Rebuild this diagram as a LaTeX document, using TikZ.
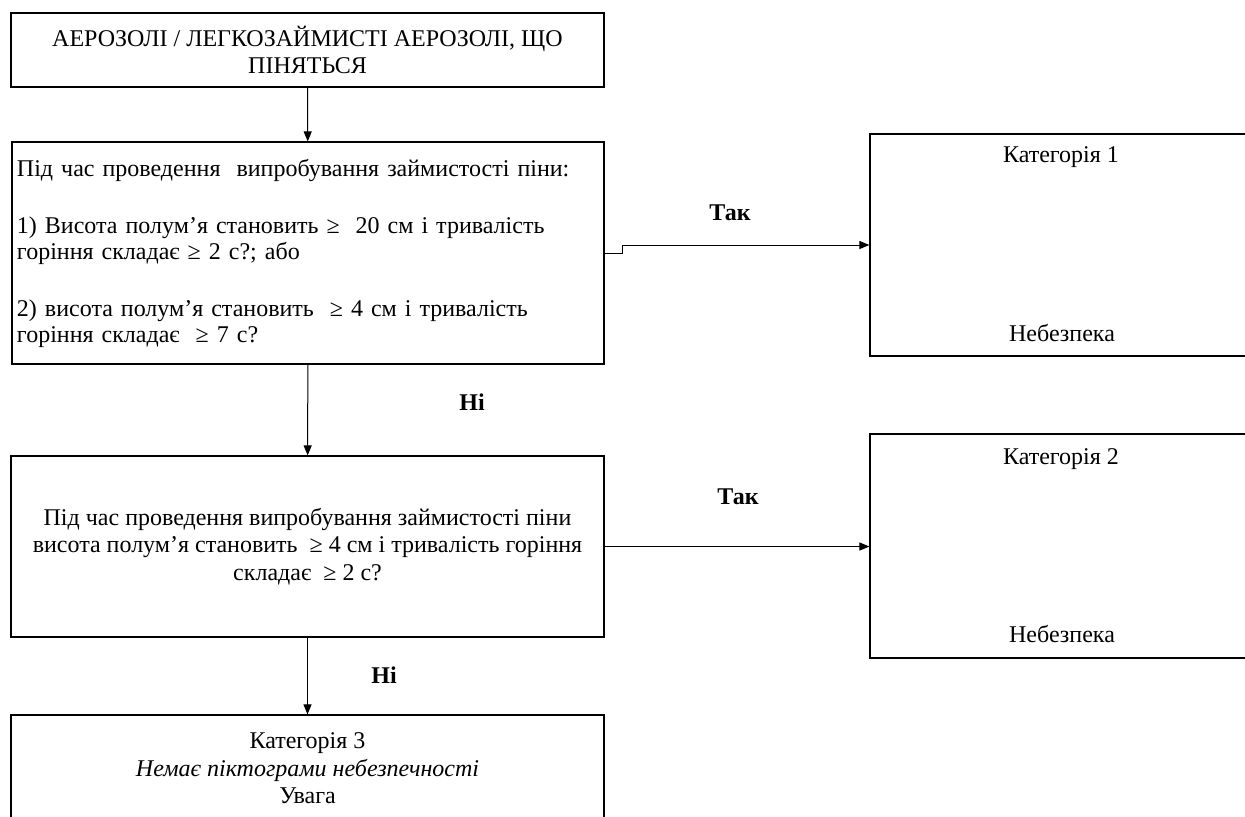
\documentclass[tikz,border=0pt]{standalone}
\usepackage{fontspec}
\setmainfont{Liberation Serif}
\usetikzlibrary{arrows.meta,positioning,calc}
\tikzset{
  qbox/.style={draw=black,line width=0.6pt,inner sep=2.5pt,font=\fontsize{12}{13.75}\selectfont,align=center},
  catbox/.style={draw=black,line width=0.6pt,minimum width=191pt},
  cattext/.style={font=\fontsize{12}{13.75}\selectfont},
  flow/.style={-{Triangle[length=5pt,width=4pt]},line width=0.5pt,draw=black},
  answer/.style={font=\bfseries\fontsize{12}{13.75}\selectfont}
}
\begin{document}
\begin{tikzpicture}[x=0.5pt,y=-0.5pt]
\useasboundingbox (0,0) rectangle (1245,816);
\clip (0,0) rectangle (1245,816);

\node[qbox,minimum width=296.5pt,minimum height=37pt] (start) at (307.5,50) {АЕРОЗОЛІ / ЛЕГКОЗАЙМИСТІ АЕРОЗОЛІ, ЩО\\ПІНЯТЬСЯ};
\node[qbox,align=left,text width=291pt,minimum height=111pt,font=\fontsize{12}{12.75}\selectfont] (q1) at (308,253) {Під час проведення\ \ випробування займистості піни:\\[16pt]
1) Висота полум’я становить ≥\ \ 20 см і тривалість\\горіння складає ≥ 2 с?; або\\[16pt]
2) висота полум’я становить\ \ ≥ 4 см і тривалість\\горіння складає\ \ ≥ 7 с?};
\node[qbox,minimum width=296.5pt,minimum height=90.5pt] (q2) at (307.5,546.5) {Під час проведення випробування займистості піни\\висота полум’я становить\ \ ≥ 4 см і тривалість горіння\\складає\ \ ≥ 2 с?};
\node[qbox,minimum width=296.5pt,minimum height=53.5pt] (cat3) at (307.5,768.5) {Категорія 3\\\textit{Немає піктограми небезпечності}\\Увага};

\node[catbox,minimum height=111pt] (cat1) at (1061,245) {};
\node[catbox,minimum height=112pt] (cat2) at (1061,546) {};
\node[cattext] (cat1a) at (1061,157) {Категорія 1};
\node[cattext] (cat1b) at (1062,333) {Небезпека};
\node[cattext] (cat2a) at (1061,459) {Категорія 2};
\node[cattext] (cat2b) at (1062,634) {Небезпека};

\node[answer] (yes1) at (730,213) {Так};
\node[answer] (no1) at (472,402) {Ні};
\node[answer] (yes2) at (738,497) {Так};
\node[answer] (no2) at (384,675) {Ні};

\draw[flow](start)--(q1);\draw[flow](q1)--(q2);\draw[flow](q2)--(cat3);
\draw[flow](q1.east)--++(18,0)|-(cat1.west);
\draw[flow](q2.east)--(q2.east-|cat2.west);
\end{tikzpicture}
\end{document}
